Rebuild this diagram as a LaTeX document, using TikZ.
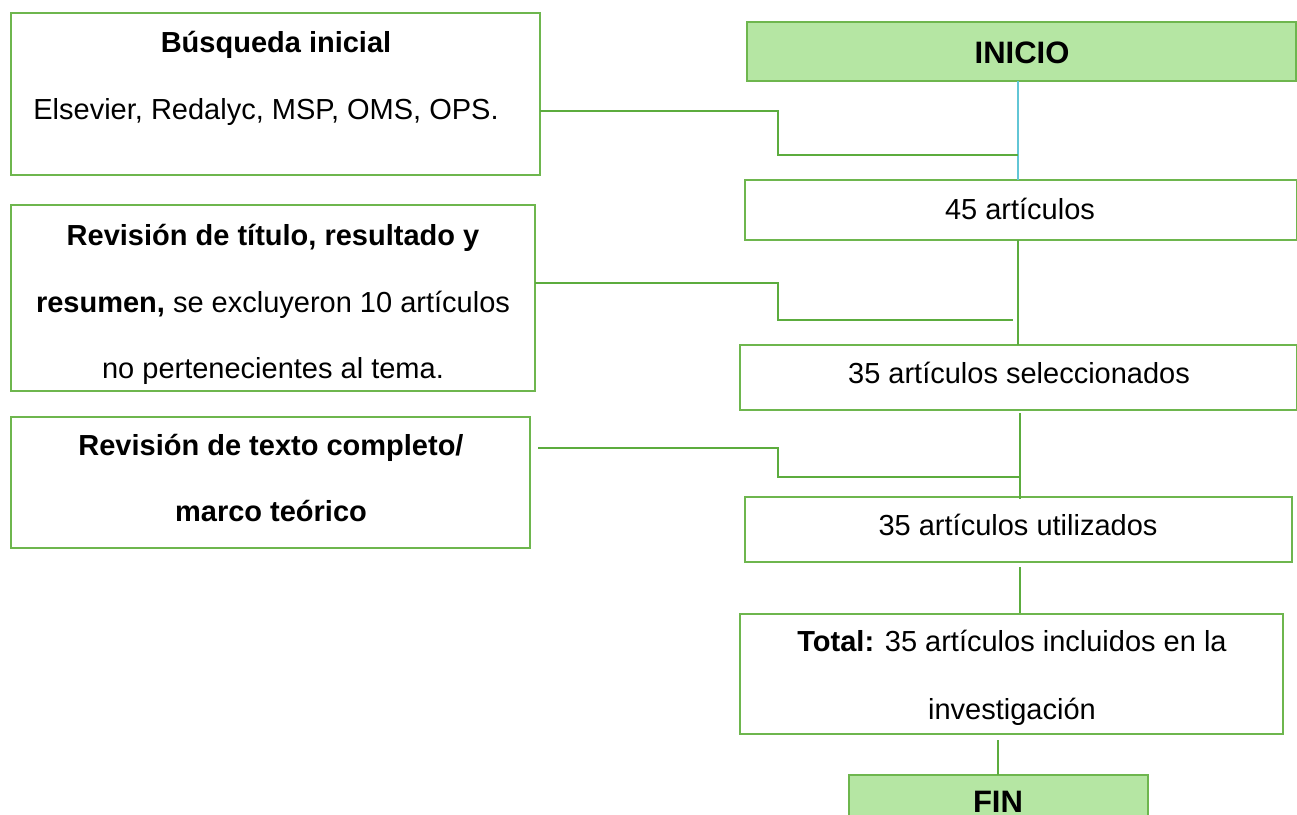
\documentclass[tikz,border=0pt]{standalone}
\usepackage{fontspec}
\setmainfont{Liberation Sans}
\definecolor{gline}{RGB}{92,172,62}
\definecolor{gbord}{RGB}{110,182,78}
\definecolor{gfill}{RGB}{181,230,163}
\definecolor{bline}{RGB}{98,198,214}
\begin{document}
\begin{tikzpicture}[x=1pt,y=-1pt,
  boxw/.style={draw=gbord,line width=1.3pt,fill=white},
  boxg/.style={draw=gbord,line width=1.3pt,fill=gfill},
  conn/.style={draw=gline,line width=1.8pt},
  txt/.style={anchor=base,inner sep=0pt,font=\fontsize{29}{35}\selectfont},
  btxt/.style={anchor=base,inner sep=0pt,font=\fontsize{29}{35}\selectfont\bfseries},
  ttl/.style={anchor=base,inner sep=0pt,font=\fontsize{31}{37}\selectfont\bfseries}]
\clip (0,0) rectangle (1297,814);
\fill[white] (0,0) rectangle (1297,814);
% boxes
\draw[boxw] (11,13) rectangle (540,175) coordinate (b1se);
\coordinate (b1) at (275.5,94);
\draw[boxg] (747,22) rectangle (1296,81);
\draw[boxw] (745,180) rectangle (1297,240);
\draw[boxw] (11,205) rectangle (535,391);
\draw[boxw] (740,345) rectangle (1297,410);
\draw[boxw] (11,417) rectangle (530,548);
\draw[boxw] (745,497) rectangle (1292,562);
\draw[boxw] (740,614) rectangle (1283,734);
\draw[boxg] (849,775) rectangle (1148,840);
% anchor coordinates
\coordinate (iniB) at (1018,81);
\coordinate (a45T) at (1018,180);
\coordinate (a45B) at (1018,240);
\coordinate (selT) at (1018,345);
\coordinate (selB) at (1020,413);
\coordinate (utiT) at (1020,499);
\coordinate (utiB) at (1020,567);
\coordinate (totT) at (1020,613);
\coordinate (totB) at (998,740);
\coordinate (finT) at (998,775);
\coordinate (b1R) at (540,111);
\coordinate (b1J) at (1018,155);
\coordinate (b2R) at (535,283);
\coordinate (b2J) at (1013,320);
\coordinate (b3R) at (538,448);
\coordinate (b3J) at (1020,477);
% connectors
\draw[draw=bline,line width=1.2pt] (iniB) -- (a45T);
\draw[conn] (b1R) -| (778,155) -- (b1J);
\draw[conn] (a45B) -- (selT);
\draw[conn] (b2R) -| (778,320) -- (b2J);
\draw[conn] (selB) -- (utiT);
\draw[conn] (b3R) -| (778,477) -- (b3J);
\draw[conn] (utiB) -- (totT);
\draw[conn] (totB) -- (finT);
% texts
\node[btxt] (t1a) at (276,52) {Búsqueda inicial};
\node[txt] (t1b) at (266,119) {Elsevier, Redalyc, MSP, OMS, OPS.};
\node[ttl] (tini) at (1022,63) {INICIO};
\node[txt] (t45) at (1020,219) {45 artículos};
\node[btxt] (t2a) at (273,245) {Revisión de título, resultado y};
\node[txt] (t2b) at (273,312) {\textbf{resumen,} se excluyeron 10 artículos};
\node[txt] (t2c) at (273,378) {no pertenecientes al tema.};
\node[txt] (tsel) at (1019,383) {35 artículos seleccionados};
\node[btxt] (t3a) at (271,455) {Revisión de texto completo/};
\node[btxt] (t3b) at (271,521) {marco teórico};
\node[txt] (tuti) at (1018,535) {35 artículos utilizados};
\node[txt] (ttota) at (1012,651) {\textbf{Total:} 35 artículos incluidos en la};
\node[txt] (ttotb) at (1012,719) {investigación};
\node[ttl] (tfin) at (998,812) {FIN};
\end{tikzpicture}
\end{document}
